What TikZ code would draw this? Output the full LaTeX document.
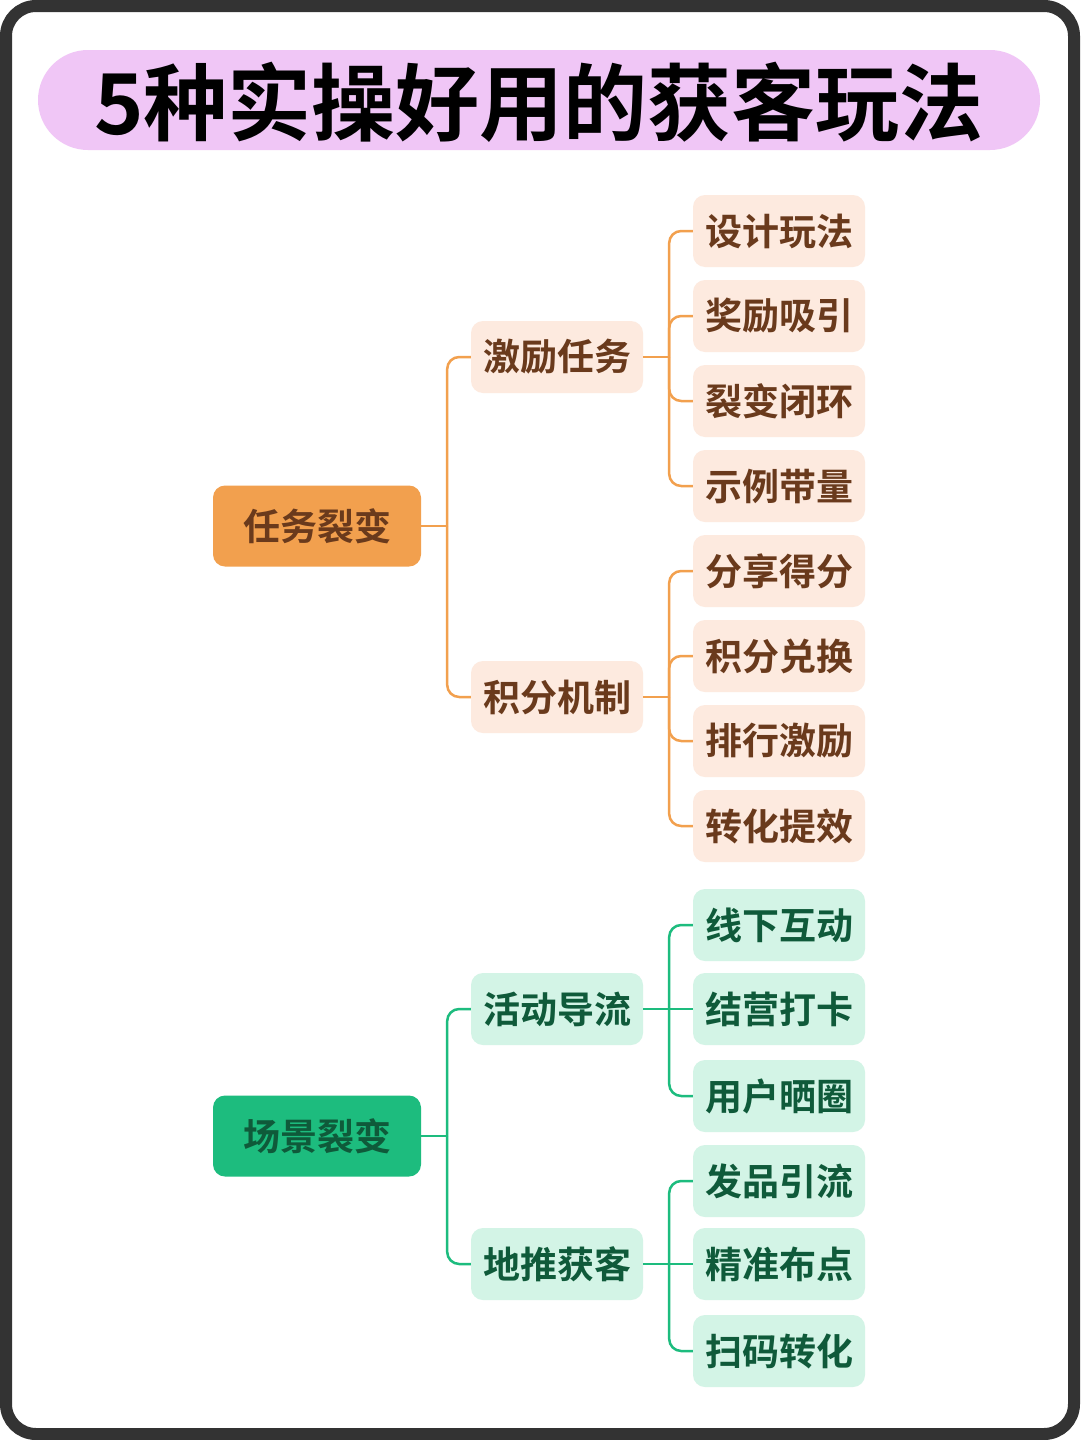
\documentclass[tikz,border=0pt]{standalone}
\usepackage{fontspec}
\setmainfont{Noto Sans CJK SC}[BoldFont={* Bold}]
\usetikzlibrary{calc}
\definecolor{frame}{HTML}{333333}
\definecolor{pill}{HTML}{F0C6F6}
\definecolor{org}{HTML}{F2A04E}
\definecolor{orgl}{HTML}{FDEADF}
\definecolor{orgt}{HTML}{6A3A1C}
\definecolor{grn}{HTML}{1DBC7E}
\definecolor{grnl}{HTML}{D3F4E6}
\definecolor{grnt}{HTML}{0F5A3A}
\tikzset{
 lbl/.style={rounded corners=12pt, minimum height=72pt, inner sep=0pt, font=\bfseries\fontsize{37}{42}\selectfont},
 rootO/.style={lbl, fill=org, text=orgt, minimum width=208pt, minimum height=81pt},
 rootG/.style={lbl, fill=grn, text=grnt, minimum width=208pt, minimum height=81pt},
 midO/.style={lbl, fill=orgl, text=orgt, minimum width=172pt},
 midG/.style={lbl, fill=grnl, text=grnt, minimum width=172pt},
 conO/.style={draw=org, line width=2.5pt, rounded corners=12pt},
 conG/.style={draw=grn, line width=2.5pt, rounded corners=12pt},
}
\begin{document}
\begin{tikzpicture}[x=1pt,y=-1pt]
\useasboundingbox (0,0) rectangle (1080,1440);
\fill[white] (0,0) rectangle (1080,1440);
\draw[frame, line width=12pt, rounded corners=30pt, fill=white] (6,6) rectangle (1074,1434);
\fill[pill, rounded corners=50pt] (38,50) rectangle (1040,150);
\node[font=\bfseries\fontsize{84}{96}\selectfont] (title) at (539,102) {5种实操好用的获客玩法};
% orange
\node[rootO] (r1) at (317,526) {任务裂变};
\node[midO] (a) at (557,357) {激励任务};
\node[midO] (b) at (557,697) {积分机制};
\node[midO] (a1) at (779,231) {设计玩法};
\node[midO] (a2) at (779,316) {奖励吸引};
\node[midO] (a3) at (779,401) {裂变闭环};
\node[midO] (a4) at (779,486) {示例带量};
\node[midO] (b1) at (779,571) {分享得分};
\node[midO] (b2) at (779,656) {积分兑换};
\node[midO] (b3) at (779,741) {排行激励};
\node[midO] (b4) at (779,826) {转化提效};
% green
\node[rootG] (r2) at (317,1136) {场景裂变};
\node[midG] (c) at (557,1009) {活动导流};
\node[midG] (d) at (557,1264) {地推获客};
\node[midG] (c1) at (779,925) {线下互动};
\node[midG] (c2) at (779,1009) {结营打卡};
\node[midG] (c3) at (779,1096) {用户晒圈};
\node[midG] (d1) at (779,1181) {发品引流};
\node[midG] (d2) at (779,1264) {精准布点};
\node[midG] (d3) at (779,1351) {扫码转化};
% stubs
\foreach \p in {r1,a,b} \draw[conO] (\p.east) -- ($(\p.east)+(26,0)$);
\foreach \p in {r2,c,d} \draw[conG] (\p.east) -- ($(\p.east)+(26,0)$);
% connectors
\foreach \p/\c in {r1/a,r1/b,a/a1,a/a2,a/a3,a/a4,b/b1,b/b2,b/b3,b/b4}
  \draw[conO] ($(\p.east)+(26,0)$) |- (\c.west);
\foreach \p/\c in {r2/c,r2/d,c/c1,c/c3,d/d1,d/d3}
  \draw[conG] ($(\p.east)+(26,0)$) |- (\c.west);
\draw[conG] ($(c.east)+(26,0)$) -- (c2.west);
\draw[conG] ($(d.east)+(26,0)$) -- (d2.west);
\end{tikzpicture}
\end{document}
